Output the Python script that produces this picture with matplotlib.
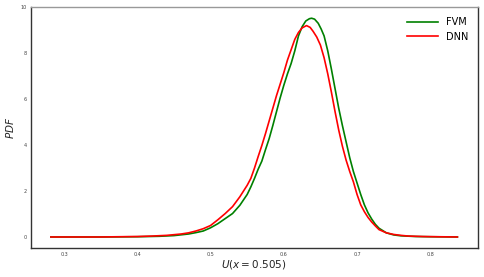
import matplotlib
matplotlib.use("Agg")
import matplotlib.pyplot as plt

# FVM pdf (green)
x_fvm = [0.282, 0.35, 0.40, 0.43, 0.45, 0.47, 0.48, 0.49, 0.50, 0.51, 0.52, 0.53,
         0.54, 0.55, 0.555, 0.56, 0.565, 0.57, 0.575, 0.58, 0.585, 0.59, 0.595,
         0.60, 0.605, 0.61, 0.615, 0.62, 0.625, 0.63, 0.635, 0.638, 0.642, 0.647,
         0.651, 0.655, 0.66, 0.665, 0.67, 0.675, 0.68, 0.685, 0.69, 0.695, 0.70,
         0.705, 0.71, 0.715, 0.72, 0.725, 0.73, 0.74, 0.75, 0.76, 0.78, 0.80, 0.837]
y_fvm = [0.0, 0.0, 0.01, 0.03, 0.06, 0.13, 0.19, 0.26, 0.40, 0.58, 0.80, 1.02,
         1.38, 1.85, 2.18, 2.55, 2.95, 3.30, 3.80, 4.28, 4.85, 5.45, 6.05,
         6.60, 7.10, 7.55, 8.10, 8.75, 9.15, 9.40, 9.50, 9.52, 9.48, 9.30,
         9.05, 8.75, 8.10, 7.30, 6.45, 5.60, 4.85, 4.15, 3.45, 2.85, 2.35,
         1.85, 1.40, 1.05, 0.78, 0.55, 0.38, 0.18, 0.09, 0.05, 0.02, 0.01, 0.0]

# DNN pdf (red)
x_dnn = [0.282, 0.35, 0.40, 0.42, 0.44, 0.46, 0.47, 0.48, 0.49, 0.50, 0.51, 0.52,
         0.53, 0.54, 0.55, 0.555, 0.56, 0.565, 0.57, 0.575, 0.58, 0.585, 0.59,
         0.595, 0.60, 0.605, 0.61, 0.615, 0.62, 0.625, 0.631, 0.636, 0.64, 0.645,
         0.65, 0.655, 0.66, 0.665, 0.67, 0.675, 0.68, 0.685, 0.69, 0.695, 0.70,
         0.705, 0.71, 0.715, 0.72, 0.725, 0.73, 0.74, 0.75, 0.76, 0.77, 0.79, 0.81, 0.837]
y_dnn = [0.0, 0.0, 0.02, 0.04, 0.07, 0.13, 0.18, 0.26, 0.36, 0.50, 0.75, 1.02,
         1.32, 1.75, 2.25, 2.55, 3.00, 3.50, 3.98, 4.50, 5.05, 5.60, 6.15,
         6.65, 7.15, 7.70, 8.15, 8.60, 8.90, 9.10, 9.20, 9.12, 8.95, 8.70,
         8.35, 7.80, 7.10, 6.30, 5.45, 4.65, 3.95, 3.35, 2.85, 2.40, 1.85,
         1.40, 1.10, 0.85, 0.65, 0.48, 0.32, 0.18, 0.11, 0.07, 0.04, 0.02, 0.01, 0.0]

xticks = [0.3, 0.4, 0.5, 0.6, 0.7, 0.8]
yticks = [0, 2, 4, 6, 8, 10]

fig = plt.figure(figsize=(4.85, 2.77), dpi=100)
ax = fig.add_axes([0.063, 0.105, 0.922, 0.869])

ax.plot(x_fvm, y_fvm, color="green", lw=1.2, label="FVM")
ax.plot(x_dnn, y_dnn, color="red", lw=1.2, label="DNN")

ax.set_xticks(xticks)
ax.set_yticks(yticks)
ax.set_xticklabels([str(t) for t in xticks])
ax.set_yticklabels([str(t) for t in yticks])
ax.tick_params(length=0, labelsize=3.5, labelcolor="#444444", pad=3)

ax.set_xlabel("$U(x=0.505)$", fontsize=7.5, color="#222222", labelpad=1)
ax.set_ylabel("$PDF$", fontsize=7.5, color="#222222", labelpad=3)

for s in ["left", "bottom", "right"]:
    ax.spines[s].set_color("#333333")
    ax.spines[s].set_linewidth(1.0)
ax.spines["top"].set_color("#999999")
ax.spines["top"].set_linewidth(1.0)

ax.legend(loc="upper right", frameon=False, fontsize=7, handlelength=3.2,
          borderaxespad=0.6, labelspacing=0.5)

fig.savefig("out.png", dpi=100)
